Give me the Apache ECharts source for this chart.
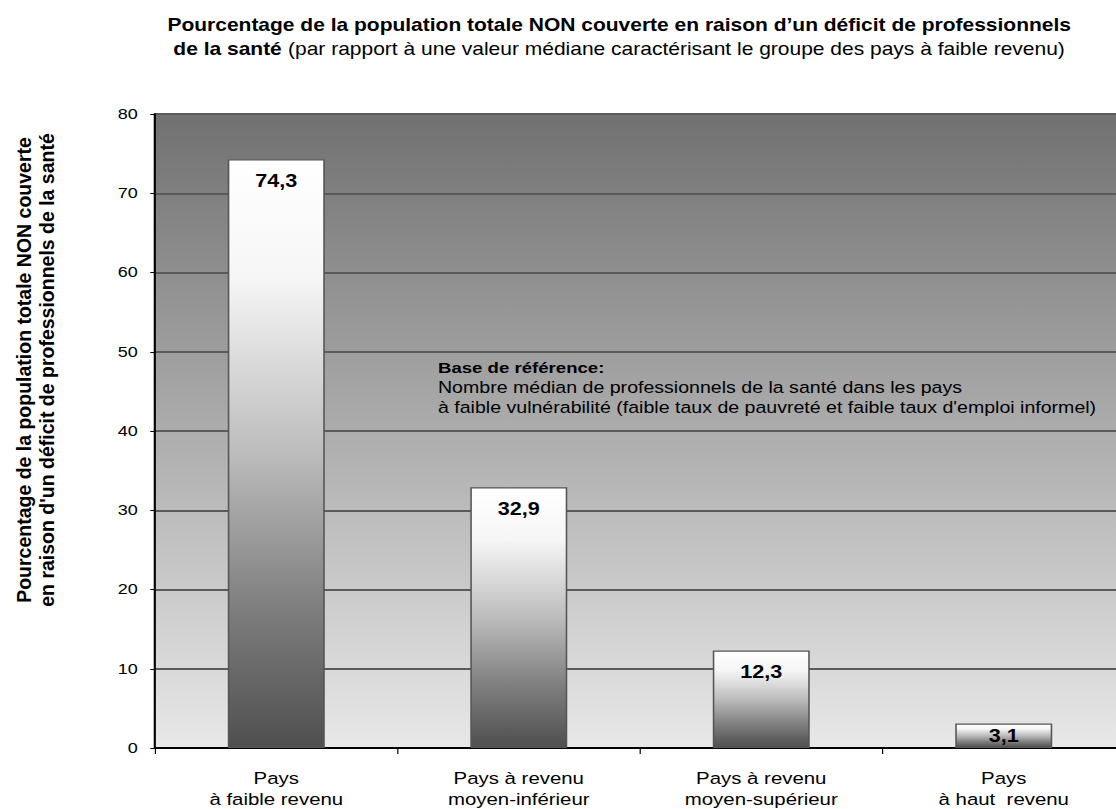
<!DOCTYPE html>
<html>
<head>
<meta charset="utf-8">
<script src="https://cdn.jsdelivr.net/npm/echarts@6/dist/echarts.min.js"></script>
<style>
html,body{margin:0;padding:0;background:#fff;overflow:hidden;width:1116px;height:809px;}
#wrap{width:1116px;height:809px;overflow:hidden;position:relative;}
#c{width:930px;height:809px;transform:scaleX(1.2);transform-origin:0 0;position:absolute;left:0;top:0;}
</style>
</head>
<body>
<div id="wrap"><div id="c"></div></div>
<script>
const categories = ['Pays\nà faible revenu', 'Pays à revenu\nmoyen-inférieur', 'Pays à revenu\nmoyen-supérieur', 'Pays\nà haut  revenu'];
const values = [74.3, 32.9, 12.3, 3.1];
const yTicks = { min: 0, max: 80, interval: 10 };
const titleLine1 = 'Pourcentage de la population totale NON couverte en raison d’un déficit de professionnels';
const titleLine2Bold = 'de la santé';
const titleLine2Rest = ' (par rapport à une valeur médiane caractérisant le groupe des pays à faible revenu)';
const yTitleLines = ['Pourcentage de la population totale NON couverte', "en raison d'un déficit de professionnels de la santé"];
const noteTitle = 'Base de référence:';
const noteLines = ['Nombre médian de professionnels de la santé dans les pays', "à faible vulnérabilité (faible taux de pauvreté et faible taux d'emploi informel)"];

const FONT = '"Liberation Sans", Arial, sans-serif';
const SX = 1.2; // horizontal stretch of the page (matches CSS transform)
const chart = echarts.init(document.getElementById('c'), null, {renderer: 'svg'});

const barGrad = new echarts.graphic.LinearGradient(0, 0, 0, 1, [
  {offset: 0, color: '#ffffff'},
  {offset: 0.2, color: '#f6f6f6'},
  {offset: 0.5, color: '#bcbcbc'},
  {offset: 0.75, color: '#818181'},
  {offset: 1, color: '#4f4f4f'}
]);

const barData = values.map(v => v < 5 ? {value: v, label: {position: 'inside'}} : v);

chart.setOption({
  animation: false,
  backgroundColor: '#ffffff',
  title: {
    left: 511, textAlign: 'center', top: 8,
    text: '{b|' + titleLine1 + '}\n{b|' + titleLine2Bold + '}{n|' + titleLine2Rest + '}',
    textStyle: {
      rich: {
        b: {fontFamily: FONT, fontWeight: 'bold', fontSize: 17.5, color: '#000', lineHeight: 24},
        n: {fontFamily: FONT, fontWeight: 'normal', fontSize: 17.5, color: '#000', lineHeight: 24}
      }
    }
  },
  grid: {
    left: 129.2, top: 114, width: 808.3, height: 634,
    outerBoundsMode: 'none', containLabel: false,
    show: true, borderWidth: 0,
    backgroundColor: new echarts.graphic.LinearGradient(0, 0, 0, 1, [
      {offset: 0, color: '#717171'},
      {offset: 1, color: '#e8e8e8'}
    ])
  },
  xAxis: {
    type: 'category',
    data: categories,
    axisLine: {lineStyle: {color: '#000', width: 2}},
    axisTick: {show: true, alignWithLabel: false, length: 6, lineStyle: {color: '#000', width: 1}},
    axisLabel: {fontFamily: FONT, fontSize: 17, color: '#000', margin: 20, lineHeight: 21}
  },
  yAxis: {
    type: 'value',
    min: yTicks.min, max: yTicks.max, interval: yTicks.interval,
    axisLine: {show: true, lineStyle: {color: '#000', width: 1.8}},
    axisTick: {show: true, length: 4, lineStyle: {color: '#000', width: 1}},
    axisLabel: {fontFamily: FONT, fontSize: 15, color: '#000', margin: 14.5},
    splitLine: {show: true, lineStyle: {color: '#5a5a5a', width: 2}}
  },
  series: [{
    type: 'bar',
    data: barData,
    barWidth: '40%',
    itemStyle: {color: barGrad, borderColor: '#555555', borderWidth: 1.3},
    label: {
      show: true, position: 'insideTop', distance: 12,
      fontFamily: FONT, fontWeight: 'bold', fontSize: 18, color: '#000',
      formatter: p => String(p.value).replace('.', ',')
    }
  }],
  graphic: [
    {
      type: 'text', x: 29.2, y: 370, rotation: Math.PI / 2, scaleY: 1 / SX,
      style: {
        text: yTitleLines.join('\n'), fontFamily: FONT, fontWeight: 'bold', fontSize: 19.5,
        lineHeight: 23, align: 'center', verticalAlign: 'middle', fill: '#000'
      }
    },
    {
      type: 'text', x: 365, y: 358,
      style: {
        text: '{b|' + noteTitle + '}\n{n|' + noteLines[0] + '}\n{n|' + noteLines[1] + '}',
        rich: {
          b: {fontFamily: FONT, fontWeight: 'bold', fontSize: 15.5, lineHeight: 20, fill: '#000'},
          n: {fontFamily: FONT, fontWeight: 'normal', fontSize: 16.3, lineHeight: 20, fill: '#000'}
        }
      }
    }
  ]
});
</script>
</body>
</html>
